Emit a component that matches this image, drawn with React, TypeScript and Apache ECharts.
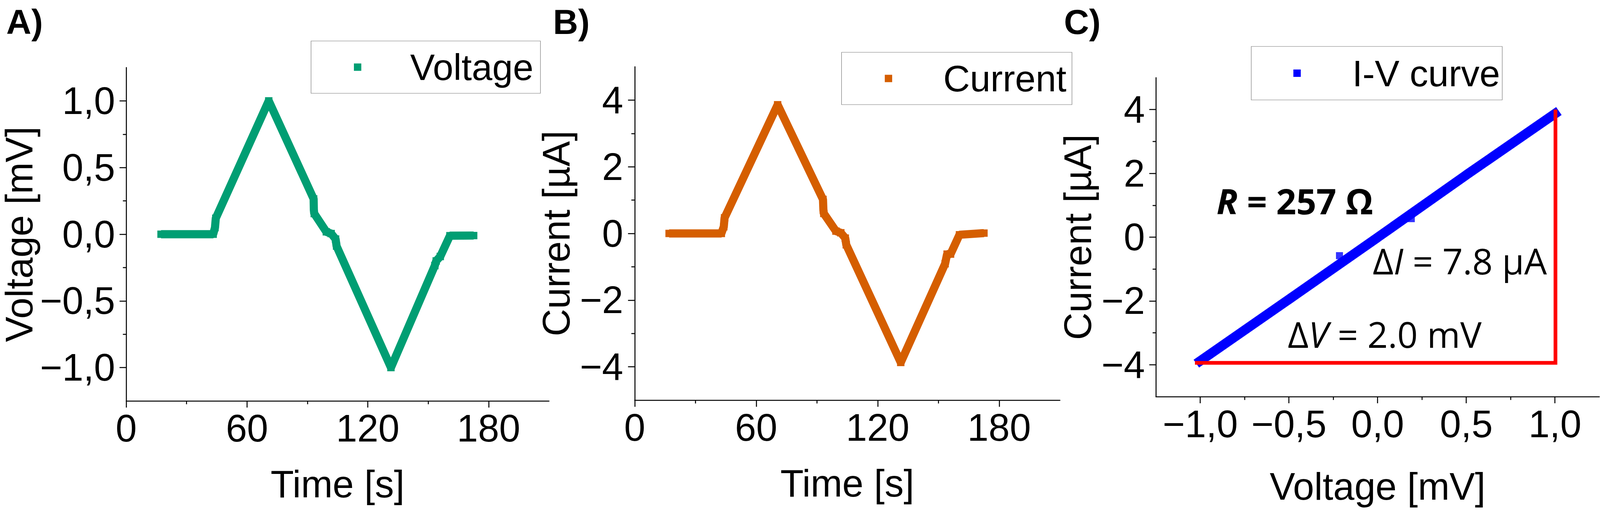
import * as echarts from 'echarts';
import { useEffect, useRef } from 'react';

// A) voltage vs time (vertices read off the trace)
const timeV = [17.3, 43.2, 44.1, 44.5, 70.8, 93.1, 93.2, 93.4, 99.4, 101.8, 104.0, 104.5, 131.5, 153.3, 154.0, 156.0, 160.8, 172.6];
const voltage = [0.0, 0.0, 0.05, 0.12, 1.0, 0.265, 0.184, 0.155, 0.018, 0.005, -0.036, -0.089, -1.0, -0.235, -0.2, -0.167, -0.011, -0.01];

// B) current vs time
const timeI = [17.0, 42.8, 44.0, 44.4, 70.6, 93.0, 93.2, 93.4, 99.4, 101.8, 104.0, 104.5, 131.4, 153.3, 154.3, 156.0, 160.4, 172.5];
const current = [0.0, 0.0, 0.2, 0.47, 3.86, 1.02, 0.7, 0.6, 0.07, 0.02, -0.14, -0.34, -3.87, -0.91, -0.62, -0.62, -0.04, 0.01];

// C) I-V curve
const ivVoltage = [-1.0, -0.5, 0.0, 0.5, 1.0];
const ivCurrent = [-3.88, -1.95, -0.01, 1.95, 3.87];
const ivOutlierV = [-0.215, 0.19];
const ivOutlierI = [-0.58, 0.58];
const guideV = [-1.03, 1.003, 1.003];
const guideI = [-3.94, -3.94, 4.0];

const timeTicks = [0, 60, 120, 180];
const mVTicks = [-1, -0.5, 0, 0.5, 1];
const uATicks = [-4, -2, 0, 2, 4];

const FONT = 'Liberation Sans';
const SANS = 'Open Sans';
const black = '#000';
const green = '#009E73';
const orange = '#D55E00';
const blue = '#0000FF';
const red = '#FF0000';

// layout was measured on a 4331 x 1309 canvas
const BASE_W = 4331;
const BASE_H = 1309;

const pairs = (xs: number[], ys: number[]) => xs.map((x, i) => [x, ys[i]]);
const fmtComma = (v: number) => v.toFixed(1).replace('.', ',').replace('-', '\u2212');
const fmtInt = (v: number) => String(v).replace('-', '\u2212');

function buildOption(sx: number, sy: number) {
  const f = Math.min(sx, sy);
  const X = (v: number) => v * sx;
  const Y = (v: number) => v * sy;
  const F = (v: number) => v * f;

  const valueAxis = (
    gridIndex: number,
    min: number,
    max: number,
    ticks: number[],
    fmt: (v: number) => string,
    name: string,
    nameGap: number,
    labelMargin: number,
    extra: any = {}
  ) => ({
    type: 'value',
    gridIndex,
    min,
    max,
    name,
    nameGap,
    nameLocation: 'middle',
    nameTextStyle: { fontFamily: FONT, fontSize: F(103), color: black },
    axisLine: { show: true, onZero: false, lineStyle: { color: black, width: F(2.7) } },
    axisTick: { show: true, length: F(18), customValues: ticks, lineStyle: { color: black, width: F(2.7) } },
    minorTick: { show: true, splitNumber: 2, length: F(9), lineStyle: { color: black, width: F(2.7) } },
    axisLabel: { customValues: ticks, formatter: fmt, margin: labelMargin, fontFamily: FONT, fontSize: F(103), color: black },
    splitLine: { show: false },
    minorSplitLine: { show: false },
    ...extra,
  });

  const legendAt = (name: string, left: number, top: number, pad: number[], textPad: number) => ({
    data: [name],
    left: X(left),
    top: Y(top),
    icon: 'rect',
    itemWidth: F(20),
    itemHeight: F(20),
    padding: [Y(pad[0]), X(pad[1]), Y(pad[2]), X(pad[3])],
    borderColor: '#7a7a7a',
    borderWidth: 1.2,
    backgroundColor: '#fff',
    selectedMode: false,
    itemStyle: { borderWidth: 0 },
    textStyle: {
      fontFamily: FONT,
      fontSize: F(100),
      color: black,
      padding: [0, 0, 0, X(textPad)],
      backgroundColor: 'rgba(0,0,0,0)',
    },
  });

  const traceSeries = (name: string, xi: number, data: number[][], color: string) => ({
    type: 'line',
    name,
    xAxisIndex: xi,
    yAxisIndex: xi,
    data,
    symbol: 'rect',
    symbolSize: F(20),
    showAllSymbol: true,
    itemStyle: { color },
    lineStyle: { color, width: F(22), join: 'bevel' },
    emphasis: { disabled: true },
    silent: true,
    z: 2,
  });

  const panelLetter = (text: string, x: number) => ({
    type: 'text',
    x: X(x),
    y: Y(56),
    style: { text, fontFamily: FONT, fontWeight: 'bold', fontSize: F(94), fill: black, verticalAlign: 'middle' },
  });

  const note = (x: number, y: number, text: string, rich: any) => ({
    type: 'text',
    x: X(x),
    y: Y(y),
    z: 10,
    style: { text, fill: black, verticalAlign: 'middle', rich },
  });

  const plain = { fontFamily: SANS, fontSize: F(97) };
  const italic = { fontFamily: SANS, fontStyle: 'italic', fontSize: F(97) };

  return {
    animation: false,
    backgroundColor: '#fff',
    grid: [
      { left: X(335), top: Y(173), width: X(1151), height: Y(854) },
      { left: X(1718), top: Y(171), width: X(1151), height: Y(854) },
      { left: X(3129), top: Y(199), width: X(1200), height: Y(817) },
    ],
    xAxis: [
      valueAxis(0, 0, 210, timeTicks, fmtInt, 'Time [s]', Y(165), Y(22), { interval: 60 }),
      valueAxis(1, 0, 210, timeTicks, fmtInt, 'Time [s]', Y(165), Y(22), { interval: 60 }),
      valueAxis(2, -1.25, 1.25, mVTicks, fmtComma, 'Voltage [mV]', Y(182), Y(22)),
    ],
    yAxis: [
      valueAxis(0, -1.25, 1.25, mVTicks, fmtComma, 'Voltage [mV]', X(238), X(30)),
      valueAxis(1, -5, 5, uATicks, fmtInt, 'Current [µA]', X(161), X(31)),
      valueAxis(2, -5, 5, uATicks, fmtInt, 'Current [µA]', X(160), X(30)),
    ],
    legend: [
      legendAt('Voltage', 842, 105, [19.5, 19, 19.5, 116], 127),
      legendAt('Current', 2278, 134, [19.5, 15, 19.5, 117], 133),
      legendAt('I-V curve', 3387, 119, [21, 6, 21, 114], 134),
    ],
    series: [
      traceSeries('Voltage', 0, pairs(timeV, voltage), green),
      traceSeries('Current', 1, pairs(timeI, current), orange),
      {
        type: 'line',
        name: 'I-V curve',
        xAxisIndex: 2,
        yAxisIndex: 2,
        data: pairs(ivVoltage, ivCurrent),
        symbol: 'none',
        itemStyle: { color: blue },
        lineStyle: { color: blue, width: F(26), cap: 'square' },
        emphasis: { disabled: true },
        silent: true,
        z: 2,
      },
      {
        type: 'scatter',
        name: 'I-V curve',
        xAxisIndex: 2,
        yAxisIndex: 2,
        data: pairs(ivOutlierV, ivOutlierI),
        symbol: 'rect',
        symbolSize: F(19),
        itemStyle: { color: blue },
        emphasis: { disabled: true },
        silent: true,
        z: 2,
      },
      {
        type: 'line',
        name: 'guide',
        xAxisIndex: 2,
        yAxisIndex: 2,
        data: pairs(guideV, guideI),
        symbol: 'none',
        lineStyle: { color: red, width: F(10), join: 'miter' },
        emphasis: { disabled: true },
        silent: true,
        z: 3,
      },
    ],
    graphic: [
      panelLetter('A)', 17),
      panelLetter('B)', 1497),
      panelLetter('C)', 2880),
      note(3293, 514, '{r|R}{b| = 257 Ω}', {
        r: { fontFamily: SANS, fontWeight: 'bold', fontStyle: 'italic', fontSize: F(95) },
        b: { fontFamily: SANS, fontWeight: 'bold', fontSize: F(95) },
      }),
      note(3716, 667, '{n|Δ}{i|I}{n| = 7.8 µA}', { n: plain, i: italic }),
      note(3486, 855, '{n|Δ}{i|V}{n| = 2.0 mV}', { n: plain, i: italic }),
    ],
  };
}

const App = () => {
  const chartRef = useRef<HTMLDivElement>(null);

  useEffect(() => {
    if (!chartRef.current) return;
    const chart = echarts.init(chartRef.current, null, { renderer: 'svg' });

    const draw = () => {
      const sx = chart.getWidth() / BASE_W;
      const sy = chart.getHeight() / BASE_H;
      chart.setOption(buildOption(sx, sy) as any, true);
    };
    draw();

    const onResize = () => {
      chart.resize();
      draw();
    };
    window.addEventListener('resize', onResize);
    return () => {
      window.removeEventListener('resize', onResize);
      chart.dispose();
    };
  }, []);

  return (
    <div
      ref={chartRef}
      style={{ position: 'fixed', left: 0, top: 0, width: '100vw', height: '100vh', background: '#fff' }}
    />
  );
};

export default App;
